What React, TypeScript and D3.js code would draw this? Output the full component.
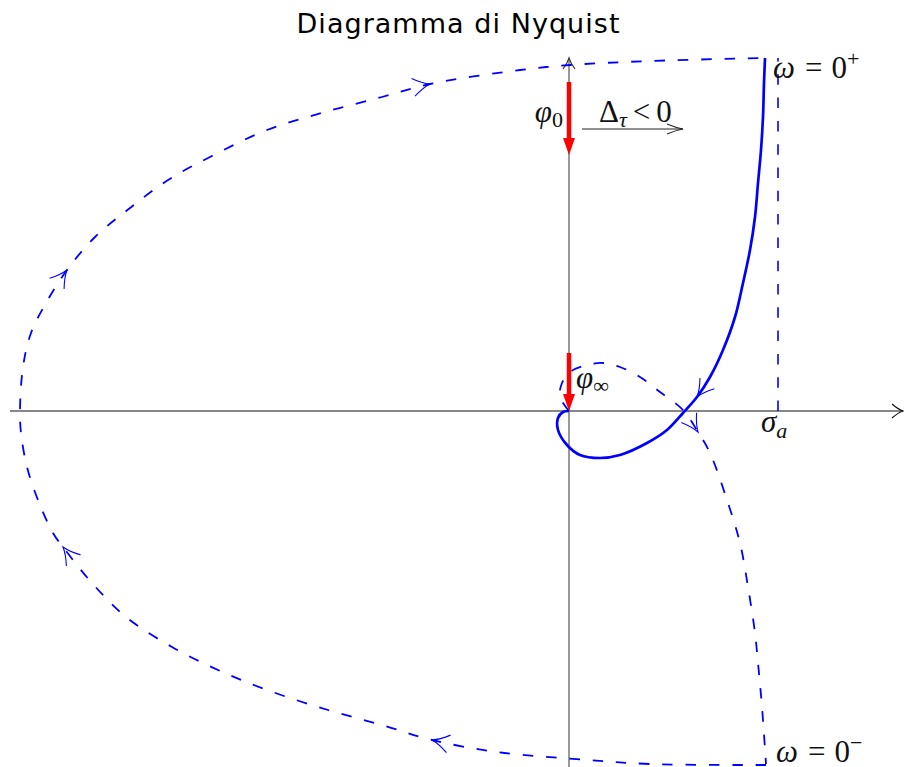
import React from 'react';
import * as d3 from 'd3';

const width = 904;
const height = 767;

// Nyquist plot, omega > 0 (solid): from omega = 0+ down to the origin
const posBranch: [number, number][] = [
  [1.96, 3.53], [1.95, 3.28], [1.94, 2.94], [1.92, 2.61], [1.89, 2.28], [1.86, 1.94],
  [1.81, 1.61], [1.74, 1.28], [1.66, 0.94], [1.54, 0.61], [1.41, 0.34], [1.28, 0.14],
  [1.14, -0.02], [0.98, -0.19], [0.78, -0.32], [0.51, -0.44], [0.31, -0.47], [0.11, -0.44],
  [-0.02, -0.34], [-0.11, -0.19], [-0.11, -0.07], [-0.06, -0.01], [0, 0],
];

// omega < 0 (dashed): from the origin out to omega = 0-
const negBranch: [number, number][] = [
  [0, 0], [-0.09, 0.14], [-0.07, 0.28], [0.01, 0.39], [0.18, 0.46], [0.34, 0.48],
  [0.51, 0.44], [0.71, 0.34], [0.91, 0.19], [1.14, 0.01], [1.29, -0.21], [1.41, -0.42],
  [1.58, -0.89], [1.71, -1.32], [1.79, -1.76], [1.86, -2.22], [1.89, -2.52], [1.93, -2.96],
  [1.97, -3.53],
];

// closure at infinity (dashed): from omega = 0- round to omega = 0+
const infArc: [number, number][] = [
  [1.97, -3.54], [0.81, -3.53], [0.19, -3.49], [-0.72, -3.41], [-1.37, -3.29], [-1.87, -3.14],
  [-2.41, -2.99], [-3.02, -2.79], [-3.51, -2.59], [-3.97, -2.36], [-4.43, -2.06], [-4.77, -1.72],
  [-5.06, -1.36], [-5.16, -1.22], [-5.31, -0.89], [-5.42, -0.56], [-5.48, -0.22], [-5.49, 0],
  [-5.46, 0.44], [-5.38, 0.78], [-5.23, 1.08], [-5.02, 1.41], [-4.74, 1.74], [-4.39, 2.03],
  [-4.01, 2.31], [-3.59, 2.54], [-3.02, 2.81], [-2.44, 2.99], [-1.87, 3.14], [-1.39, 3.27],
  [-0.49, 3.41], [0.01, 3.46], [0.81, 3.50], [1.96, 3.53],
];

// where the direction arrows sit (index into the series)
const infArrows = [4, 12, 21, 29];
const negArrows = [10];
const posArrows = [11];

const sigmaA = 2.09;
const omegaZero: [number, number] = [1.96, 3.53];
const phi0 = [3.29, 2.56];
const phiInf = [0.58, 0];
const deltaTau = [0.13, 1.14, 2.82];
const xExtent = [-5.59, 3.35];
const yExtent = [-3.56, 3.53];

const blue = '#0000ff';
const red = '#ff0000';
const dash = '10.5 12.8';
const mathFont = '"Liberation Serif", "DejaVu Serif", serif';

function chevron(tip: number[], dir: number[], len = 13, half = 7) {
  const n = Math.hypot(dir[0], dir[1]);
  const ux = dir[0] / n, uy = dir[1] / n;
  const bx = tip[0] - ux * len, by = tip[1] - uy * len;
  const cx = tip[0] - ux * len * 0.45, cy = tip[1] - uy * len * 0.45;
  return `M${bx - uy * half},${by + ux * half}Q${cx - uy * half * 0.25},${cy + ux * half * 0.25} ${tip[0]},${tip[1]}`
    + `Q${cx + uy * half * 0.25},${cy - ux * half * 0.25} ${bx + uy * half},${by - ux * half}`;
}

function triangle(tip: number[], dir: number[], len = 17, half = 6) {
  const n = Math.hypot(dir[0], dir[1]);
  const ux = dir[0] / n, uy = dir[1] / n;
  const bx = tip[0] - ux * len, by = tip[1] - uy * len;
  return `M${bx - uy * half},${by + ux * half}L${tip[0]},${tip[1]}L${bx + uy * half},${by - ux * half}Z`;
}

export default function App() {
  const x = d3.scaleLinear().domain([-5.69, 3.35]).range([0, width]);
  const y = d3.scaleLinear().domain([4.11, -3.56]).range([0, height]);

  const line = d3.line<[number, number]>()
    .x(d => x(d[0]))
    .y(d => y(d[1]))
    .curve(d3.curveCatmullRom.alpha(0.5));

  const arrowsOn = (pts: [number, number][], idx: number[]) => idx.map(i => {
    const a = pts[Math.max(0, i - 1)], b = pts[Math.min(pts.length - 1, i + 1)];
    const tip = [x(pts[i][0]), y(pts[i][1])];
    return chevron(tip, [x(b[0]) - x(a[0]), y(b[1]) - y(a[1])], 17, 9);
  });

  const x0 = x(0), y0 = y(0);

  return (
    <svg width={width} height={height} style={{ position: 'absolute', left: 0, top: 0, background: '#fff' }}>
      <text x={458} y={33} textAnchor="middle" fontFamily='"DejaVu Sans", sans-serif' fontSize={27}
        textLength={323} lengthAdjust="spacing">Diagramma di Nyquist</text>

      {/* axes */}
      <line x1={x(xExtent[0])} x2={x(xExtent[1]) - 1} y1={y0} y2={y0} stroke="#111" strokeWidth={1.2} />
      <path d={chevron([x(xExtent[1]) - 1, y0], [1, 0], 11, 7)} fill="none" stroke="#111" strokeWidth={1.1} />
      <line x1={x0} x2={x0} y1={y(yExtent[0])} y2={y(yExtent[1])} stroke="#777" strokeWidth={1.5} />
      <path d={chevron([x0, y(yExtent[1])], [0, -1], 11, 6)} fill="none" stroke="#333" strokeWidth={1.1} />

      {/* sigma_a marker */}
      <line x1={x(sigmaA)} x2={x(sigmaA)} y1={y0} y2={y(omegaZero[1])} stroke={blue} strokeWidth={1.6}
        strokeDasharray={dash} />

      {/* dashed parts of the diagram */}
      <path d={line(infArc) || ''} fill="none" stroke={blue} strokeWidth={1.8} strokeDasharray={dash} />
      <path d={line(negBranch) || ''} fill="none" stroke={blue} strokeWidth={1.8} strokeDasharray={dash} />
      {/* solid branch */}
      <path d={line(posBranch) || ''} fill="none" stroke={blue} strokeWidth={2.7} />

      {[...arrowsOn(infArc, infArrows), ...arrowsOn(negBranch, negArrows), ...arrowsOn(posBranch, posArrows)]
        .map((d, i) => <path key={i} d={d} fill="none" stroke={blue} strokeWidth={1.1} />)}

      {/* phase arrows */}
      <line x1={x0} x2={x0} y1={y(phi0[0])} y2={y(phi0[1]) - 10} stroke={red} strokeWidth={4.5} />
      <path d={triangle([x0, y(phi0[1])], [0, 1])} fill={red} />
      <line x1={x0} x2={x0} y1={y(phiInf[0])} y2={y(phiInf[1]) - 10} stroke={red} strokeWidth={4.5} />
      <path d={triangle([x0, y(phiInf[1])], [0, 1])} fill={red} />

      {/* delta tau arrow */}
      <line x1={x(deltaTau[0])} x2={x(deltaTau[1])} y1={y(deltaTau[2])} y2={y(deltaTau[2])} stroke="#222" strokeWidth={1.2} />
      <path d={chevron([x(deltaTau[1]), y(deltaTau[2])], [1, 0], 16, 5)} fill="none" stroke="#222" strokeWidth={1.1} />

      {/* labels */}
      <g fontFamily={mathFont} fontSize={31} fill="#111">
        <text x={x0 - 6} y={y(phi0[0]) + 40} textAnchor="end">
          <tspan fontStyle="italic">φ</tspan><tspan fontSize={22} dy={5}>0</tspan>
        </text>
        <text x={x(deltaTau[0]) + 17} y={y(deltaTau[2]) - 7}>
          <tspan>Δ</tspan><tspan fontStyle="italic" fontSize={22} dy={5}>τ</tspan>
          <tspan dy={-5} dx={6}>&lt;</tspan><tspan dx={6}>0</tspan>
        </text>
        <text x={x(omegaZero[0]) + 8} y={y(omegaZero[1]) + 20}>
          <tspan fontStyle="italic">ω</tspan><tspan dx={10}>=</tspan><tspan dx={9}>0</tspan>
          <tspan fontSize={22} dy={-12}>+</tspan>
        </text>
        <text x={x(omegaZero[0]) + 11} y={y(-omegaZero[1]) - 2}>
          <tspan fontStyle="italic">ω</tspan><tspan dx={10}>=</tspan><tspan dx={9}>0</tspan>
          <tspan fontSize={22} dy={-12}>−</tspan>
        </text>
        <text x={x0 + 7} y={y(phiInf[0]) + 35}>
          <tspan fontStyle="italic">φ</tspan><tspan fontSize={22} dy={5}>∞</tspan>
        </text>
        <text x={x(sigmaA) - 17} y={y0 + 21}>
          <tspan fontStyle="italic">σ</tspan><tspan fontStyle="italic" fontSize={22} dy={6}>a</tspan>
        </text>
      </g>
    </svg>
  );
}
